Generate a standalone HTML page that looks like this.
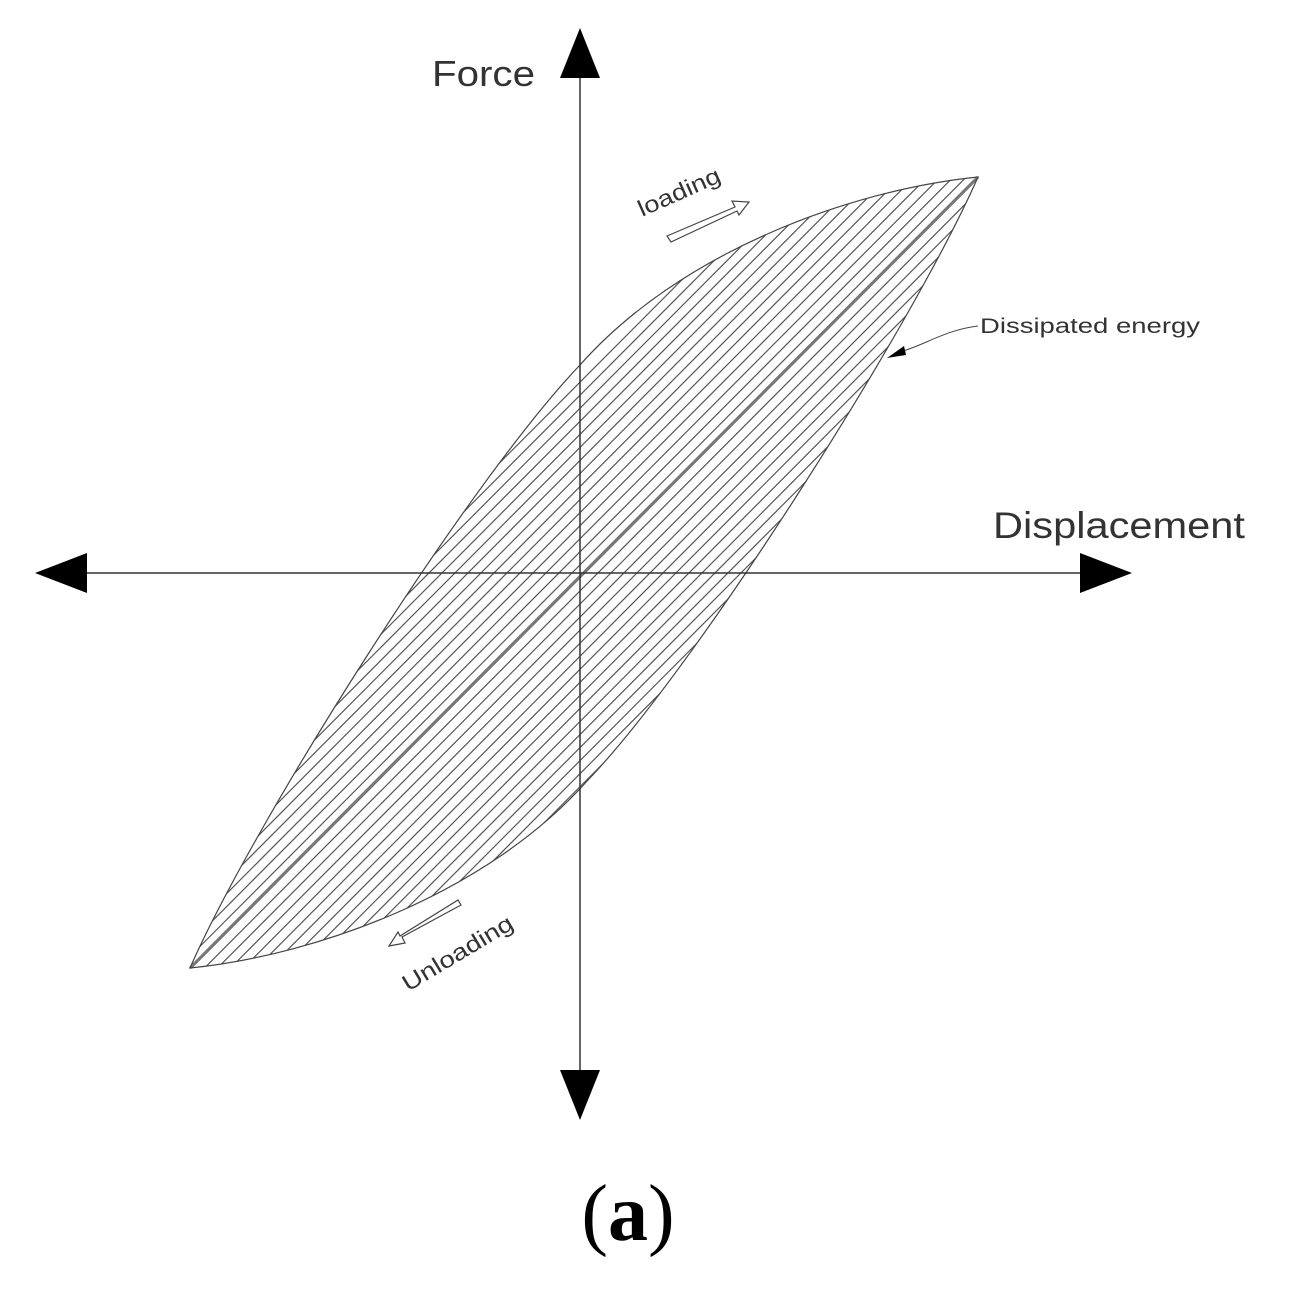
<!DOCTYPE html>
<html><head><style>body{margin:0;background:#fff}svg{display:block}</style></head><body>
<svg width="1290" height="1297" viewBox="0 0 1290 1297" xmlns="http://www.w3.org/2000/svg">
<defs>
<path id="loop" d="M190,968 C255,820 470,480 580,365 C680,252 850,190 978,177 C913,325 698,665 588,780 C488,893 318,955 190,968 Z"/>
<clipPath id="c"><use href="#loop"/></clipPath>
</defs>
<g clip-path="url(#c)" stroke="#555" stroke-width="1.2" fill="none">
<path d="
M-380,1346 l1500,-1506 M-367,1346 l1500,-1506 M-354,1346 l1500,-1506 M-341,1346 l1500,-1506 M-328,1346 l1500,-1506
M-315,1346 l1500,-1506 M-302,1346 l1500,-1506 M-289,1346 l1500,-1506 M-276,1346 l1500,-1506 M-263,1346 l1500,-1506
M-250,1346 l1500,-1506 M-237,1346 l1500,-1506 M-224,1346 l1500,-1506 M-211,1346 l1500,-1506 M-198,1346 l1500,-1506
M-185,1346 l1500,-1506 M-172,1346 l1500,-1506 M-159,1346 l1500,-1506 M-146,1346 l1500,-1506 M-133,1346 l1500,-1506
M-120,1346 l1500,-1506 M-107,1346 l1500,-1506 M-94,1346 l1500,-1506 M-81,1346 l1500,-1506 M-68,1346 l1500,-1506
M-55,1346 l1500,-1506 M-42,1346 l1500,-1506 M-29,1346 l1500,-1506 M-16,1346 l1500,-1506 M-3,1346 l1500,-1506
M10,1346 l1500,-1506 M23,1346 l1500,-1506 M36,1346 l1500,-1506 M49,1346 l1500,-1506"/>
</g>
<path d="M190,968 L978,177" stroke="#777" stroke-width="3"/>
<use href="#loop" fill="none" stroke="#444" stroke-width="1.2"/>
<line x1="580" y1="60" x2="580" y2="1090" stroke="#333" stroke-width="1.5"/>
<line x1="60" y1="573" x2="1105" y2="573" stroke="#333" stroke-width="1.5"/>
<polygon points="580,28 560,78 600,78" fill="#000"/>
<polygon points="580,1120 560,1070 600,1070" fill="#000"/>
<polygon points="35,573 87,553 87,593" fill="#000"/>
<polygon points="1132,573 1080,553 1080,593" fill="#000"/>
<text x="432" y="86" font-family="Liberation Sans, sans-serif" font-size="36" fill="#333" textLength="103" lengthAdjust="spacingAndGlyphs">Force</text>
<text x="993" y="538" font-family="Liberation Sans, sans-serif" font-size="37" fill="#333" textLength="252" lengthAdjust="spacingAndGlyphs">Displacement</text>
<text x="628" y="1240" text-anchor="middle" font-family="Liberation Serif, serif" font-size="80" fill="#000">(<tspan font-weight="bold">a</tspan>)</text>
<text transform="translate(642,217) rotate(-24)" font-family="Liberation Sans, sans-serif" font-size="23" fill="#333" textLength="88" lengthAdjust="spacingAndGlyphs">loading</text>
<path d="M667,236 L735,207 L732,201 L749,202 L739,215 L737,211 L671,242 Z" fill="#fff" stroke="#444" stroke-width="1.2"/>
<text transform="translate(408,992) rotate(-31)" font-family="Liberation Sans, sans-serif" font-size="23" fill="#333" textLength="125" lengthAdjust="spacingAndGlyphs">Unloading</text>
<path d="M461,905 L402,937 L405,943 L389,946 L398,932 L400,936 L458,900 Z" fill="#fff" stroke="#444" stroke-width="1.2"/>
<text x="980" y="333" font-family="Liberation Sans, sans-serif" font-size="21" fill="#333" textLength="220" lengthAdjust="spacingAndGlyphs">Dissipated energy</text>
<path d="M978,326 C945,330 925,345 900,352" fill="none" stroke="#444" stroke-width="1"/>
<polygon points="887,358 904,346 906,355" fill="#000"/>
</svg>
</body></html>
